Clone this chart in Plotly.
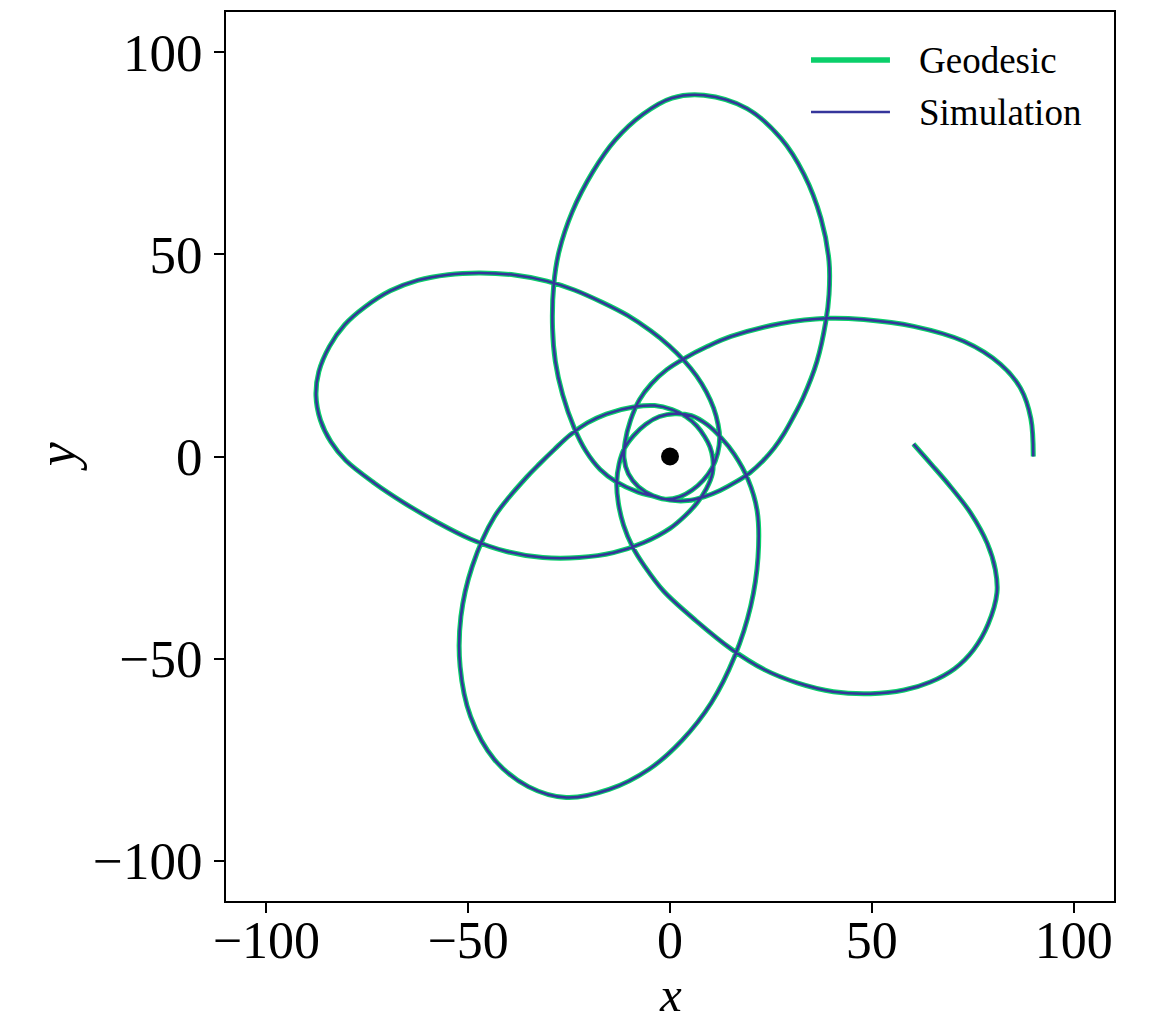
import plotly.graph_objects as go

# Orbit path, one list per radial period (apoapsis to apoapsis)
x_orbit1 = [90.0, 89.4, 86.9, 81.9, 72.8, 60.4, 48.0, 38.9, 27.5, 15.1, 9.2, 3.6, -0.8,
            -4.6, -7.6, -9.8, -11.1, -11.4, -10.3, -7.8, -4.2, 0.0, 4.4, 8.6, 12.4, 16.3,
            19.8, 23.0, 25.8, 28.2, 30.4, 33.0, 36.4, 38.6, 39.4, 39.4, 37.4, 33.2, 27.5,
            19.1, 8.4]
y_orbit1 = [0.0, 9.4, 16.8, 22.8, 28.5, 32.2, 33.9, 34.2, 32.9, 29.7, 27.2, 24.3, 21.5,
            18.0, 14.0, 8.9, 3.7, -0.4, -4.3, -7.5, -9.7, -10.8, -10.9, -9.9, -8.4, -6.3,
            -4.0, -1.1, 2.1, 5.6, 9.5, 14.6, 23.5, 33.4, 40.1, 48.3, 58.9, 69.8, 78.7,
            86.1, 89.4]

x_orbit2 = [0.5, -6.7, -13.6, -19.1, -24.2, -27.5, -28.8, -29.1, -28.4, -26.6, -23.7,
            -20.8, -17.3, -13.4, -7.9, -4.2, -1.1, 2.4, 5.5, 8.2, 10.4, 11.8, 12.3, 11.9,
            10.8, 9.0, 6.6, 3.6, -0.2, -4.8, -10.5, -16.7, -23.7, -30.5, -38.5, -47.0,
            -55.0, -62.5, -69.3, -75.6, -80.6, -84.4, -87.0]
y_orbit2 = [88.7, 84.7, 78.3, 70.5, 60.6, 50.7, 42.5, 31.8, 23.5, 15.3, 7.0,
            1.3, -3.2, -6.2, -8.8, -9.8, -10.6, -10.0, -8.3, -5.9, -2.9, 0.8, 4.5, 8.0,
            12.0, 16.0, 19.9, 23.6, 27.4, 31.1, 34.9, 38.1, 41.2, 43.4, 44.9, 45.4,
            45.0, 43.6, 41.0, 37.0, 32.6, 27.2, 21.0]

x_orbit3 = [-87.7, -86.6, -84.0, -80.3, -73.2, -66.0, -58.0, -49.5, -40.5, -31.5, -22.5,
            -14.0, -6.5, 0.0, 3.8, 6.6, 9.0, 10.5, 10.6, 9.9, 8.6, 6.6, 3.9, 0.5, -3.8,
            -8.7, -15.8, -20.5, -24.8, -28.6, -32.2, -35.6, -43.5, -49.0, -51.8, -52.0,
            -49.4, -43.5, -35.1]
y_orbit3 = [15.0, 9.0, 3.6, -1.0, -6.6, -11.4, -16.1, -20.4, -23.5, -25.0, -25.0,
            -23.8, -21.3, -17.8, -14.6, -11.6, -8.0, -4.2, -0.4, 2.4, 4.9, 7.6, 9.9, 11.6, 12.6,
            12.3, 10.5, 8.3, 5.3, 1.8, -1.7, -5.2, -14.9, -27.2, -39.6, -52.0,
            -64.4, -75.0, -81.7]

x_orbit4 = [-25.7, -15.1, -5.2, 3.0, 10.2, 16.0, 20.0, 21.8, 21.6, 19.3, 15.9, 12.7, 9.2,
            5.3, 1.2, -2.6, -6.0, -9.0, -11.3, -12.6, -13.2, -12.8, -11.5, -9.3, -6.2,
            -1.6, 6.4, 15.4, 23.5, 31.5, 40.5, 49.7, 58.0, 64.5, 70.5, 75.2, 78.8]
y_orbit4 = [-84.4, -82.4, -77.4, -70.2, -61.0, -49.5, -37.0, -25.0, -13.5, -5.6, 0.6, 4.6,
            7.9, 10.1, 10.6, 9.9, 8.0, 5.2, 2.0, -1.8, -6.5, -11.5, -17.0, -22.3, -27.3,
            -33.3, -40.6, -47.8, -52.8, -56.0, -58.2, -58.7, -57.8, -55.8, -52.5, -47.8, -41.5]

x_orbit5 = [81.0, 80.6, 78.6, 74.5, 69.6, 64.8, 60.3]
y_orbit5 = [-33.7, -28.0, -21.5, -14.0, -7.6, -2.0, 3.1]

# Central mass
x_mass = [0.0]
y_mass = [0.0]

tick_vals = [-100, -50, 0, 50, 100]
tick_text = ["\u2212100", "\u221250", "0", "50", "100"]

legend_labels = ["Geodesic", "Simulation"]
axis_labels = ["<i>x</i>", "<i>y</i>"]

GREEN = "#0acf6a"
BLUE = "#35359b"
FONT = "Liberation Serif"

x_path = x_orbit1 + x_orbit2 + x_orbit3 + x_orbit4 + x_orbit5
y_path = y_orbit1 + y_orbit2 + y_orbit3 + y_orbit4 + y_orbit5

fig = go.Figure()
fig.add_trace(go.Scatter(
    x=x_path, y=y_path, mode="lines", name=legend_labels[0],
    line=dict(color=GREEN, width=5, shape="spline", smoothing=1.0),
))
fig.add_trace(go.Scatter(
    x=x_path, y=y_path, mode="lines", name=legend_labels[1],
    line=dict(color=BLUE, width=2.5, shape="spline", smoothing=1.0),
))
fig.add_trace(go.Scatter(
    x=x_mass, y=y_mass, mode="markers", showlegend=False,
    marker=dict(color="black", size=18),
))

# Legend drawn in the upper-right corner of the axes
legend_rows = [(0.946, GREEN, 5.5), (0.8875, BLUE, 2.5)]
for (yy, col, w), label in zip(legend_rows, legend_labels):
    fig.add_shape(type="line", xref="paper", yref="paper",
                  x0=0.6588, x1=0.7477, y0=yy, y1=yy,
                  line=dict(color=col, width=w))
    fig.add_annotation(xref="paper", yref="paper", x=0.7785, y=yy,
                       text=label, showarrow=False, xanchor="left", yanchor="middle",
                       font=dict(family=FONT, size=37, color="black"))

# Axis titles placed in the margins
fig.add_annotation(xref="paper", yref="paper", x=0.5, y=-0.1380,
                   text=axis_labels[0], showarrow=False,
                   xanchor="center", yanchor="bottom",
                   font=dict(family=FONT, size=49, color="black"))
fig.add_annotation(xref="paper", yref="paper", x=-0.1905, y=0.5,
                   text=axis_labels[1], showarrow=False, textangle=-90,
                   xanchor="center", yanchor="middle",
                   font=dict(family=FONT, size=54, color="black"))

axis_common = dict(
    range=[-110, 110], showgrid=False, zeroline=False, automargin=False,
    showline=True, linecolor="black", linewidth=1.8, mirror=True,
    ticks="outside", ticklen=10, tickwidth=1.8, tickcolor="black",
    tickvals=tick_vals, ticktext=tick_text,
)

fig.update_layout(
    width=1169, height=1025,
    margin=dict(l=226, r=55, t=12, b=124),
    plot_bgcolor="white", paper_bgcolor="white",
    showlegend=False,
    font=dict(family=FONT, color="black"),
    xaxis=dict(**axis_common, ticklabelstandoff=-17,
               tickfont=dict(family=FONT, size=52, color="black")),
    yaxis=dict(**axis_common, ticklabelstandoff=1,
               tickfont=dict(family=FONT, size=53, color="black")),
)

fig.write_html("out.html")
